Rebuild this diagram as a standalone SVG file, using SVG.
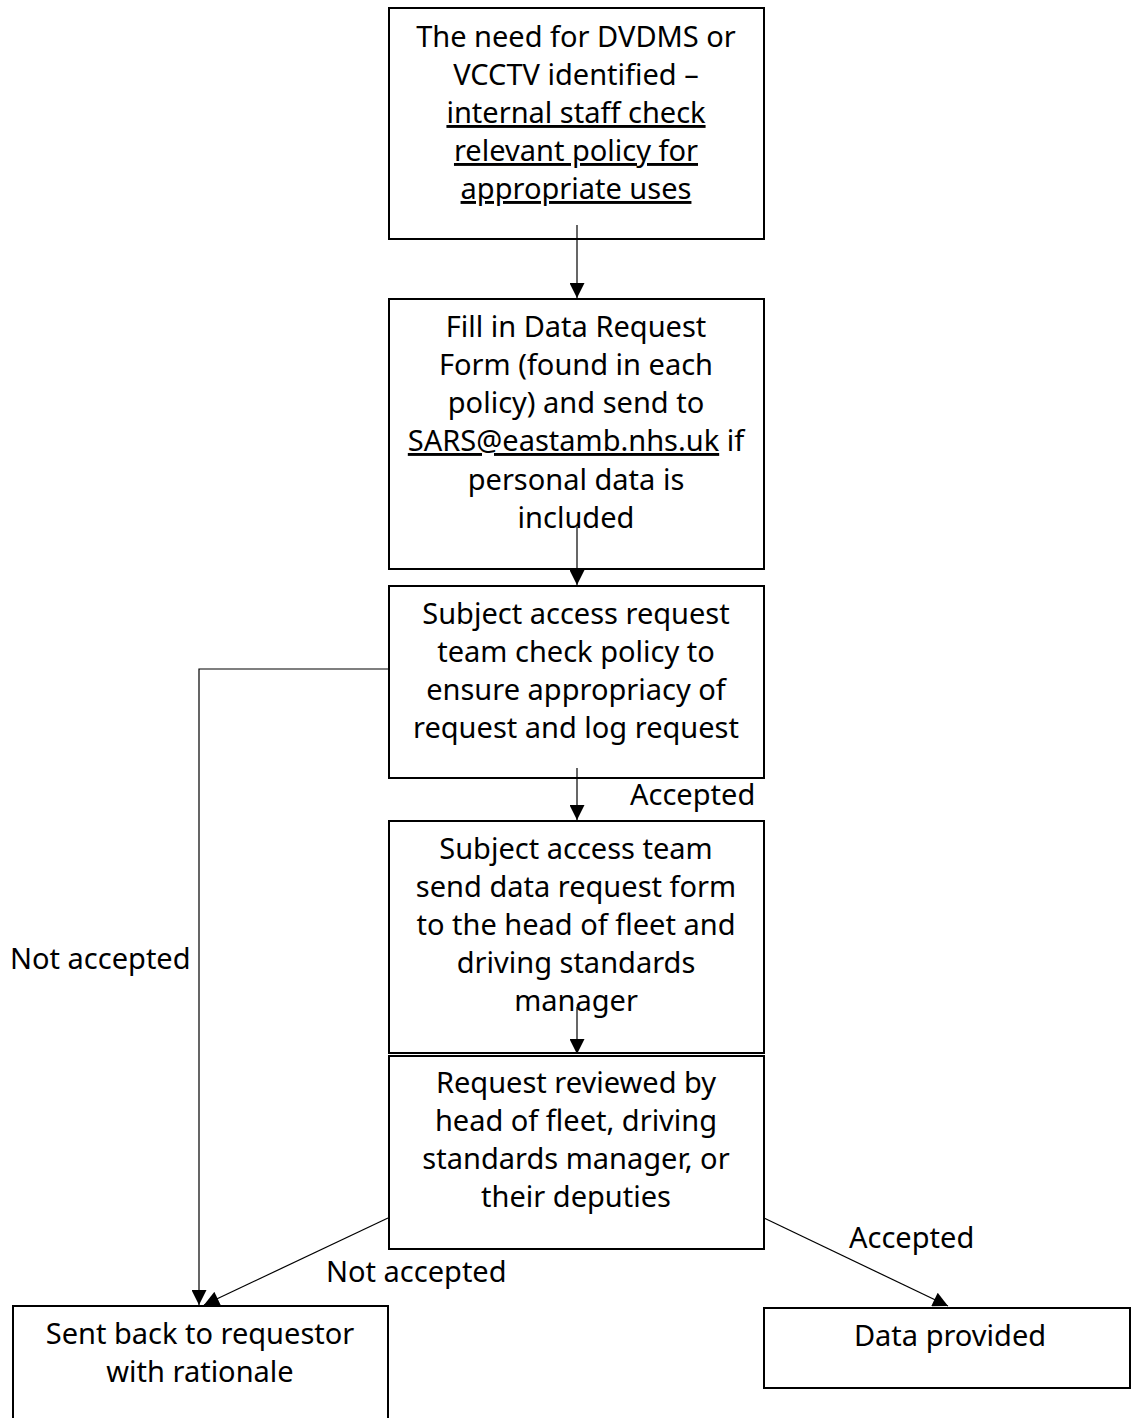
<svg xmlns="http://www.w3.org/2000/svg" width="1131" height="1418" viewBox="0 0 1131 1418">
<style>
.box{fill:#fff;stroke:#000;stroke-width:2}
.t{font-family:"Noto Sans","Open Sans","DejaVu Sans",sans-serif;font-size:29px;fill:#000;text-anchor:middle}
.l{font-family:"Noto Sans","Open Sans","DejaVu Sans",sans-serif;font-size:29px;fill:#000}
.u{text-decoration:underline}
.c{stroke:#000;stroke-width:1.2;fill:none}
</style>
<defs>
<marker id="ah" viewBox="0 0 10 10" refX="10" refY="5" markerWidth="16" markerHeight="15" markerUnits="userSpaceOnUse" orient="auto">
<path d="M0,0 L10,5 L0,10 z" fill="#000"/>
</marker>
</defs>
<rect width="1131" height="1418" fill="#fff"/>
<g id="n1">
<rect class="box" x="389" y="8" width="375" height="231"/>
<text class="t" x="576" y="47">The need for DVDMS or</text>
<text class="t" x="576" y="85">VCCTV identified –</text>
<text class="t u" x="576" y="123">internal staff check</text>
<text class="t u" x="576" y="161">relevant policy for</text>
<text class="t u" x="576" y="199">appropriate uses</text>
</g>
<g id="n2">
<rect class="box" x="389" y="299" width="375" height="270"/>
<text class="t" x="576" y="337">Fill in Data Request</text>
<text class="t" x="576" y="375">Form (found in each</text>
<text class="t" x="576" y="413">policy) and send to</text>
<text class="t" x="576" y="451"><tspan class="u">SARS@eastamb.nhs.uk</tspan> if</text>
<text class="t" x="576" y="490">personal data is</text>
<text class="t" x="576" y="528">included</text>
</g>
<g id="n3">
<rect class="box" x="389" y="586" width="375" height="192"/>
<text class="t" x="576" y="624">Subject access request</text>
<text class="t" x="576" y="662">team check policy to</text>
<text class="t" x="576" y="700">ensure appropriacy of</text>
<text class="t" x="576" y="738">request and log request</text>
</g>
<g id="n4">
<rect class="box" x="389" y="821" width="375" height="232"/>
<text class="t" x="576" y="859">Subject access team</text>
<text class="t" x="576" y="897">send data request form</text>
<text class="t" x="576" y="935">to the head of fleet and</text>
<text class="t" x="576" y="973">driving standards</text>
<text class="t" x="576" y="1011">manager</text>
</g>
<g id="n5">
<rect class="box" x="389" y="1056" width="375" height="193"/>
<text class="t" x="576" y="1093">Request reviewed by</text>
<text class="t" x="576" y="1131">head of fleet, driving</text>
<text class="t" x="576" y="1169">standards manager, or</text>
<text class="t" x="576" y="1207">their deputies</text>
</g>
<g id="n6">
<path class="box" d="M13,1420 V1306 H388 V1420"/>
<text class="t" x="200" y="1344">Sent back to requestor</text>
<text class="t" x="200" y="1382">with rationale</text>
</g>
<g id="n7">
<rect class="box" x="764" y="1308" width="366" height="80"/>
<text class="t" x="950" y="1346">Data provided</text>
</g>
<g id="connectors">
<line class="c" x1="577" y1="225" x2="577" y2="298" marker-end="url(#ah)"/>
<line class="c" x1="577" y1="527" x2="577" y2="585" marker-end="url(#ah)"/>
<line class="c" x1="577" y1="768" x2="577" y2="820" marker-end="url(#ah)"/>
<line class="c" x1="577" y1="1007" x2="577" y2="1054" marker-end="url(#ah)"/>
<polyline class="c" points="389,669 199,669 199,1305" marker-end="url(#ah)"/>
<line class="c" x1="388" y1="1218" x2="204" y2="1305" marker-end="url(#ah)"/>
<line class="c" x1="764" y1="1218" x2="948" y2="1306" marker-end="url(#ah)"/>
<text class="l" x="630" y="805">Accepted</text>
<text class="l" x="10" y="969">Not accepted</text>
<text class="l" x="326" y="1282">Not accepted</text>
<text class="l" x="849" y="1248">Accepted</text>
</g>
</svg>
